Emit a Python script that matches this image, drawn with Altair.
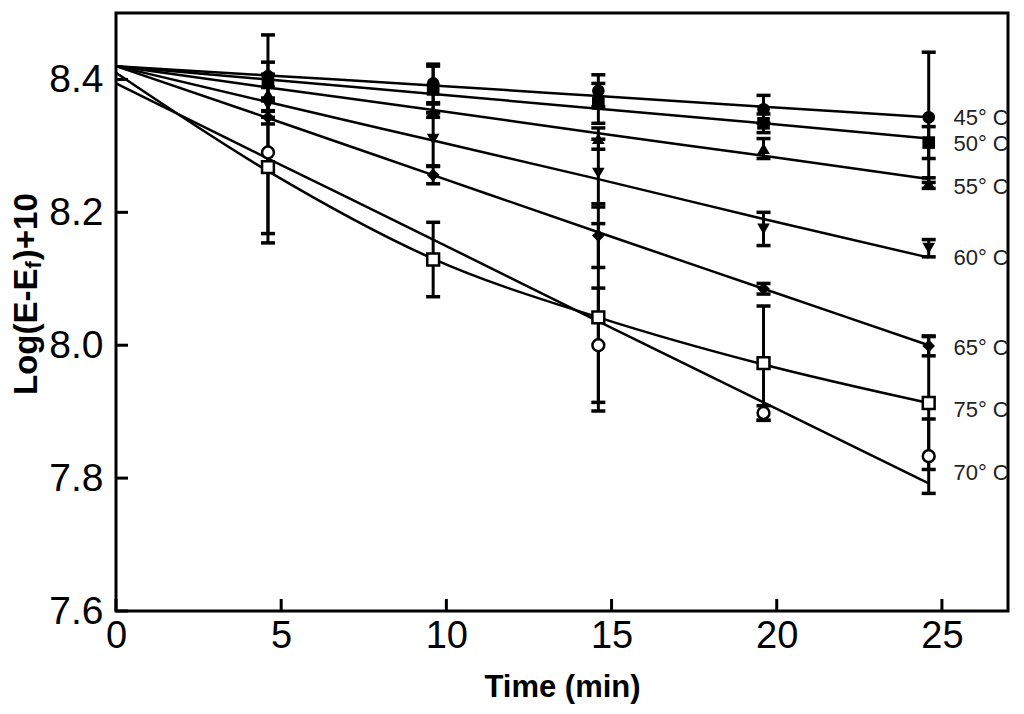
import altair as alt
import pandas as pd

# ---------------- data ----------------
times = [4.6, 9.6, 14.6, 19.6, 24.6]
fit_times = [0, 4.6, 9.6, 14.6, 19.6, 24.6]
x_ticks = [0, 5, 10, 15, 20, 25]
y_ticks = [7.6, 7.8, 8.0, 8.2, 8.4]

series_names = ["45° C", "50° C", "55° C", "60° C", "65° C", "70° C", "75° C"]
shapes = ["circle", "square", "triangle-up", "triangle-down", "diamond", "circle", "square"]
open_series = ["70° C", "75° C"]

mean_45 = [8.405, 8.394, 8.383, 8.355, 8.343]
err_45 = [0.062, 0.029, 0.024, 0.021, 0.098]
mean_50 = [8.398, 8.385, 8.364, 8.334, 8.305]
err_50 = [0.010, 0.035, 0.030, 0.014, 0.024]
mean_55 = [8.378, 8.353, 8.311, 8.296, 8.244]
err_55 = [0.010, 0.010, 0.016, 0.015, 0.008]
mean_60 = [8.362, 8.310, 8.259, 8.175, 8.146]
err_60 = [0.010, 0.040, 0.051, 0.025, 0.013]
mean_65 = [8.343, 8.256, 8.165, 8.085, 7.999]
err_65 = [0.010, 0.013, 0.048, 0.008, 0.015]
mean_70 = [8.290, None, 8.000, 7.898, 7.833]
err_70 = [0.136, None, 0.086, 0.011, 0.056]
mean_75 = [8.268, 8.129, 8.042, 7.973, 7.913]
err_75 = [0.100, 0.056, 0.141, 0.086, 0.100]

fit_45 = [8.420, 8.406, 8.391, 8.375, 8.359, 8.343]
fit_50 = [8.420, 8.400, 8.378, 8.356, 8.334, 8.311]
fit_55 = [8.420, 8.388, 8.354, 8.319, 8.285, 8.250]
fit_60 = [8.420, 8.366, 8.308, 8.250, 8.190, 8.132]
fit_65 = [8.420, 8.342, 8.256, 8.170, 8.085, 8.000]
fit_70 = [8.394, 8.281, 8.159, 8.036, 7.914, 7.792]
fit_75 = [8.410, 8.262, 8.130, 8.042, 7.971, 7.913]

label_x = 25.35
label_y = [8.342, 8.303, 8.238, 8.131, 7.996, 7.808, 7.902]

means = [mean_45, mean_50, mean_55, mean_60, mean_65, mean_70, mean_75]
errs = [err_45, err_50, err_55, err_60, err_65, err_70, err_75]
fits = [fit_45, fit_50, fit_55, fit_60, fit_65, fit_70, fit_75]

# ---------------- tables ----------------
pt_rows = []
for name, m, e in zip(series_names, means, errs):
    for t, v, d in zip(times, m, e):
        if v is None:
            continue
        pt_rows.append({"series": name, "t": t, "y": v, "lo": v - d, "hi": v + d,
                        "open": name in open_series})
pts = pd.DataFrame(pt_rows)

fit_rows = []
for name, f in zip(series_names, fits):
    for t, v in zip(fit_times, f):
        fit_rows.append({"series": name, "t": t, "y": v})
fit_df = pd.DataFrame(fit_rows)

lab_df = pd.DataFrame({"series": series_names, "x": [label_x] * len(series_names), "y": label_y})
xt_df = pd.DataFrame({"t": x_ticks})
yt_df = pd.DataFrame({"v": y_ticks})

FONT = "Liberation Sans"
xs = alt.Scale(domain=[0, 27], nice=False, zero=False)
ys = alt.Scale(domain=[7.6, 8.5], nice=False, zero=False)

x_axis = alt.Axis(values=x_ticks, ticks=False, domain=False, grid=False, labelFlush=False,
                  labelFontSize=38, labelFont=FONT, labelColor="black", labelPadding=6,
                  title="Time (min)", titleFont=FONT, titleFontSize=31, titleFontWeight="bold",
                  titleColor="black", titleY=76, titleBaseline="middle")
y_axis = alt.Axis(values=y_ticks, format=".1f", ticks=False, domain=False, grid=False,
                  labelFontSize=39, labelFont=FONT, labelColor="black", labelPadding=13,
                  title="")


def X(field):
    return alt.X(field, type="quantitative", scale=xs, axis=x_axis)


def Y(field):
    return alt.Y(field, type="quantitative", scale=ys, axis=y_axis)


shape_scale = alt.Scale(domain=series_names, range=shapes)

lines = alt.Chart(fit_df).mark_line(color="black", strokeWidth=2.5, interpolate="monotone").encode(
    x=X("t"), y=Y("y"), detail="series:N")

bars = alt.Chart(pts).mark_rule(color="black", strokeWidth=3, opacity=1).encode(
    x=X("t"), y=Y("lo"), y2="hi")
cap_lo = alt.Chart(pts).mark_tick(color="black", orient="horizontal", size=14, thickness=3.5,
                                  opacity=1).encode(x=X("t"), y=Y("lo"))
cap_hi = alt.Chart(pts).mark_tick(color="black", orient="horizontal", size=14, thickness=3.5,
                                  opacity=1).encode(x=X("t"), y=Y("hi"))

filled_pts = alt.Chart(pts).transform_filter("!datum.open").mark_point(
    filled=True, color="black", size=160, opacity=1).encode(
    x=X("t"), y=Y("y"), shape=alt.Shape("series:N", scale=shape_scale, legend=None))
open_pts = alt.Chart(pts).transform_filter("datum.open").mark_point(
    filled=True, fill="white", stroke="black", strokeWidth=2.5, size=140, opacity=1).encode(
    x=X("t"), y=Y("y"), shape=alt.Shape("series:N", scale=shape_scale, legend=None))

xticks = alt.Chart(xt_df).mark_tick(color="black", orient="vertical", size=12, thickness=3,
                                    opacity=1).encode(x=X("t"), y=alt.value(592))
yticks = alt.Chart(yt_df).mark_tick(color="black", orient="horizontal", size=12, thickness=3,
                                    opacity=1).encode(y=Y("v"), x=alt.value(6))

labels = alt.Chart(lab_df).mark_text(align="left", baseline="middle", font=FONT, fontSize=22,
                                     color="#222222", clip=True).encode(
    x=X("x"), y=Y("y"), text="series:N")

# y-axis title with subscript, built from three rotated text pieces
TS = 33
SUB = 22
ytitle_df = pd.DataFrame({"a": [0]})
TX = -89
t1 = alt.Chart(ytitle_df).mark_text(text="Log(E-E", angle=270, align="left", baseline="middle",
                                    font=FONT, fontSize=TS, fontWeight="bold", color="black").encode(
    x=alt.value(TX), y=alt.value(382))
w1 = 3.833 * TS
t2 = alt.Chart(ytitle_df).mark_text(text="f", angle=270, align="left", baseline="middle", dy=7,
                                    font=FONT, fontSize=SUB, fontWeight="bold", color="black").encode(
    x=alt.value(TX), y=alt.value(382 - w1))
w2 = 0.333 * SUB + 1
t3 = alt.Chart(ytitle_df).mark_text(text=")+10", angle=270, align="left", baseline="middle",
                                    font=FONT, fontSize=TS, fontWeight="bold", color="black").encode(
    x=alt.value(TX), y=alt.value(382 - w1 - w2))

chart = alt.layer(lines, bars, cap_lo, cap_hi, filled_pts, open_pts, xticks, yticks, labels,
                  t1, t2, t3).properties(
    width=892, height=598,
    padding={"left": 108, "top": 5, "right": 8, "bottom": 95},
    autosize=alt.AutoSizeParams(type="none"),
    background="white",
).configure_view(stroke="black", strokeWidth=3)

chart.save("out.html", embed_options={"renderer": "svg", "actions": False})
